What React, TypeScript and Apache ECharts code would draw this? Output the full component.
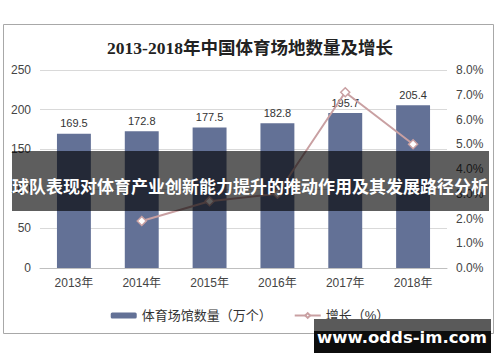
import React, { useEffect, useRef } from "react";
import * as echarts from "echarts";

const categories = ["2013年", "2014年", "2015年", "2016年", "2017年", "2018年"];
const venueCounts = [169.5, 172.8, 177.5, 182.8, 195.7, 205.4];
const growthRates: (number | null)[] = [null, 1.9, 2.7, 3.0, 7.1, 5.0];
const titleText = "2013-2018年中国体育场地数量及增长";
const barName = "体育场馆数量（万个）";
const lineName = "增长（%）";
const bannerText = "球队表现对体育产业创新能力提升的推动作用及其发展路径分析";
const watermarkText = "www.odds-im.com";

const SANS = "'Liberation Sans', Arial, 'Noto Sans CJK SC', sans-serif";

export default function App() {
  const ref = useRef<HTMLDivElement>(null);
  useEffect(() => {
    if (!ref.current) return;
    const chart = echarts.init(ref.current, null, { renderer: "svg" });
    chart.setOption({
      animation: false,
      backgroundColor: "#ffffff",
      title: {
        text: titleText,
        left: "center",
        top: 34,
        textStyle: {
          fontSize: 17.5,
          fontWeight: "bold",
          color: "#222",
          fontFamily: "'Liberation Serif', 'Noto Sans CJK SC', serif",
        },
      },
      grid: { left: 40, right: 53, top: 70, bottom: 94 },
      legend: {
        bottom: 35,
        left: "center",
        itemWidth: 26,
        itemHeight: 6,
        itemGap: 22,
        textStyle: { fontSize: 13, color: "#333", fontFamily: SANS },
        data: [barName, lineName],
      },
      xAxis: {
        type: "category",
        data: categories,
        axisLine: { lineStyle: { color: "#bfbfbf" } },
        axisTick: { length: 4, lineStyle: { color: "#bfbfbf" } },
        axisLabel: { color: "#444", fontSize: 12, margin: 9, fontFamily: SANS },
      },
      yAxis: [
        {
          type: "value",
          min: 0,
          max: 250,
          interval: 50,
          axisLine: { show: false },
          axisTick: { show: false },
          axisLabel: { color: "#444", fontSize: 12, margin: 9, fontFamily: SANS },
          splitLine: { lineStyle: { color: "#d9d9d9" } },
        },
        {
          type: "value",
          min: 0,
          max: 8,
          interval: 1,
          axisLine: { show: false },
          axisTick: { show: false },
          axisLabel: {
            color: "#444",
            fontSize: 12,
            margin: 9,
            fontFamily: SANS,
            formatter: (v: number) => v.toFixed(1) + "%",
          },
          splitLine: { show: false },
        },
      ],
      series: [
        {
          name: barName,
          type: "bar",
          data: venueCounts,
          barWidth: "50%",
          itemStyle: { color: "#637196" },
          label: {
            show: true,
            position: "top",
            distance: 5,
            color: "#333",
            fontSize: 11,
            fontFamily: SANS,
          },
        },
        {
          name: lineName,
          type: "line",
          yAxisIndex: 1,
          data: growthRates,
          symbol: "diamond",
          symbolSize: 9,
          lineStyle: { color: "#c9a0a2", width: 2 },
          itemStyle: { color: "#ffffff", borderColor: "#c9a0a2", borderWidth: 1.5 },
        },
      ],
      graphic: [
        {
          type: "rect",
          z: -10,
          shape: { x: 3.5, y: 24.5, width: 490, height: 309 },
          style: { fill: "none", stroke: "#a8a8a8", lineWidth: 1 },
        },
        {
          type: "rect",
          z: 100,
          shape: { x: 12, y: 151, width: 477, height: 60 },
          style: { fill: "rgba(0,0,0,0.63)" },
        },
        {
          type: "text",
          z: 101,
          x: 250,
          y: 185,
          style: {
            text: bannerText,
            fill: "#ffffff",
            fontSize: 17,
            fontWeight: "bold",
            fontFamily: "'Noto Sans CJK SC', sans-serif",
            align: "center",
            verticalAlign: "middle",
          },
        },
        {
          type: "rect",
          z: 100,
          shape: { x: 314, y: 319, width: 177, height: 34 },
          style: { fill: "#0d0d0d" },
        },
        {
          type: "rect",
          z: 100,
          shape: { x: 314, y: 319, width: 177, height: 12 },
          style: { fill: "#5a5a5a" },
        },
        {
          type: "text",
          z: 101,
          x: 402,
          y: 337,
          style: {
            text: watermarkText,
            fill: "#ffffff",
            fontSize: 16.5,
            fontWeight: "bold",
            fontFamily: "'DejaVu Sans', sans-serif",
            align: "center",
            verticalAlign: "middle",
          },
        },
      ],
    });
    return () => chart.dispose();
  }, []);
  return (
    <div
      ref={ref}
      style={{ position: "absolute", left: 0, top: 0, width: 500, height: 362 }}
    />
  );
}
